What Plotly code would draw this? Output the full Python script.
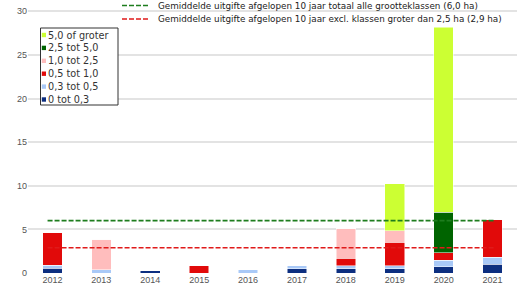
import plotly.graph_objects as go

years = [2012, 2013, 2014, 2015, 2016, 2017, 2018, 2019, 2020, 2021]

# Uitgifte per grootteklasse (ha), van klein naar groot gestapeld
klasse_0_03 = [0.55, 0.0, 0.25, 0.0, 0.0, 0.50, 0.50, 0.50, 0.70, 1.00]
klasse_03_05 = [0.35, 0.40, 0.0, 0.0, 0.40, 0.35, 0.32, 0.35, 0.75, 0.80]
klasse_05_10 = [3.80, 0.0, 0.0, 0.85, 0.0, 0.0, 0.90, 2.66, 0.85, 4.35]
klasse_10_25 = [0.0, 3.45, 0.0, 0.0, 0.0, 0.0, 3.43, 1.35, 0.0, 0.0]
klasse_25_50 = [0.0, 0.0, 0.0, 0.0, 0.0, 0.0, 0.0, 0.0, 4.65, 0.0]
klasse_50_plus = [0.0, 0.0, 0.0, 0.0, 0.0, 0.0, 0.0, 5.35, 21.20, 0.0]

series_names = ["0 tot 0,3", "0,3 tot 0,5", "0,5 tot 1,0", "1,0 tot 2,5", "2,5 tot 5,0", "5,0 of groter"]
series_values = [klasse_0_03, klasse_03_05, klasse_05_10, klasse_10_25, klasse_25_50, klasse_50_plus]
series_colors = ["#0d2f80", "#a9c9f7", "#e10a0a", "#ffbdbd", "#006400", "#ccff33"]

gemiddelde_totaal = 6.0
gemiddelde_excl = 2.9
label_totaal = "Gemiddelde uitgifte afgelopen 10 jaar totaal alle grootteklassen (6,0 ha)"
label_excl = "Gemiddelde uitgifte afgelopen 10 jaar excl. klassen groter dan 2,5 ha (2,9 ha)"
line_colors = ["#1e7d1e", "#e01a1a"]

y_ticks = [0, 5, 10, 15, 20, 25, 30]

TICK_FONT = "Liberation Sans, Arial, sans-serif"
LEGEND_FONT = "DejaVu Sans, Verdana, sans-serif"

W, H = 525, 290
M_L, M_R, M_T, M_B = 28, 8, 0, 17
PLOT_W = W - M_L - M_R
PLOT_H = H - M_T - M_B


def px_x(px):
    """Pixel column -> paper x."""
    return (px - M_L) / PLOT_W


def px_y(py):
    """Pixel row (from top) -> paper y."""
    return (H - M_B - py) / PLOT_H


fig = go.Figure()

for name, vals, col in zip(series_names, series_values, series_colors):
    fig.add_trace(go.Bar(
        x=years, y=vals, name=name, width=0.4,
        marker=dict(color=col, line=dict(color="white", width=0.5)),
    ))

line_x = [years[0] - 0.1, years[-1] + 0.05]
for value, label, col in zip([gemiddelde_totaal, gemiddelde_excl], [label_totaal, label_excl], line_colors):
    fig.add_trace(go.Scatter(
        x=line_x, y=[value] * 2, mode="lines", name=label,
        line=dict(color=col, width=1.6, dash="5px,2px"),
    ))

shapes = []
annotations = []

# Legenda grootteklassen (kader linksboven, grootste klasse bovenaan)
shapes.append(dict(
    type="rect", xref="paper", yref="paper",
    x0=px_x(40.5), x1=px_x(118), y0=px_y(105), y1=px_y(28),
    line=dict(color="#333", width=1), fillcolor="white", layer="above",
))
row_y = 35.0
for name, col in zip(reversed(series_names), reversed(series_colors)):
    shapes.append(dict(
        type="rect", xref="paper", yref="paper",
        x0=px_x(41.8), x1=px_x(46), y0=px_y(row_y + 2.2), y1=px_y(row_y - 2.2),
        line=dict(width=0), fillcolor=col, layer="above",
    ))
    annotations.append(dict(
        xref="paper", yref="paper", x=px_x(46), y=px_y(row_y),
        xanchor="left", yanchor="middle", text=name, showarrow=False,
        font=dict(family=LEGEND_FONT, size=9.7, color="#333"),
    ))
    row_y += 12.9

# Legenda gemiddelden (bovenaan)
for i, (label, col) in enumerate(zip([label_totaal, label_excl], line_colors)):
    y_row = 5.5 + i * 13.5
    shapes.append(dict(
        type="line", xref="paper", yref="paper",
        x0=px_x(122), x1=px_x(150), y0=px_y(y_row), y1=px_y(y_row),
        line=dict(color=col, width=1.6, dash="5px,2px"), layer="above",
    ))
    annotations.append(dict(
        xref="paper", yref="paper", x=px_x(156), y=px_y(y_row),
        xanchor="left", yanchor="middle", text=label, showarrow=False,
        font=dict(family=LEGEND_FONT, size=8.8, color="#222"),
    ))

fig.update_layout(
    width=W, height=H,
    margin=dict(l=M_L, r=M_R, t=M_T, b=M_B),
    barmode="stack",
    showlegend=False,
    plot_bgcolor="white", paper_bgcolor="white",
    font=dict(family=TICK_FONT, size=9, color="#444"),
    xaxis=dict(
        range=[2011.5, 2021.5], tickvals=years, ticktext=[str(y) for y in years],
        showgrid=False, zeroline=False, showline=False, ticks="",
        tickfont=dict(size=9, color="#555"),
    ),
    yaxis=dict(
        range=[0, 31.3], tickvals=y_ticks, showgrid=True, gridcolor="#e3e3e3",
        gridwidth=1.5, zeroline=False, ticks="", tickfont=dict(size=9, color="#555"),
    ),
    shapes=shapes,
    annotations=annotations,
)

fig.write_html("out.html")
